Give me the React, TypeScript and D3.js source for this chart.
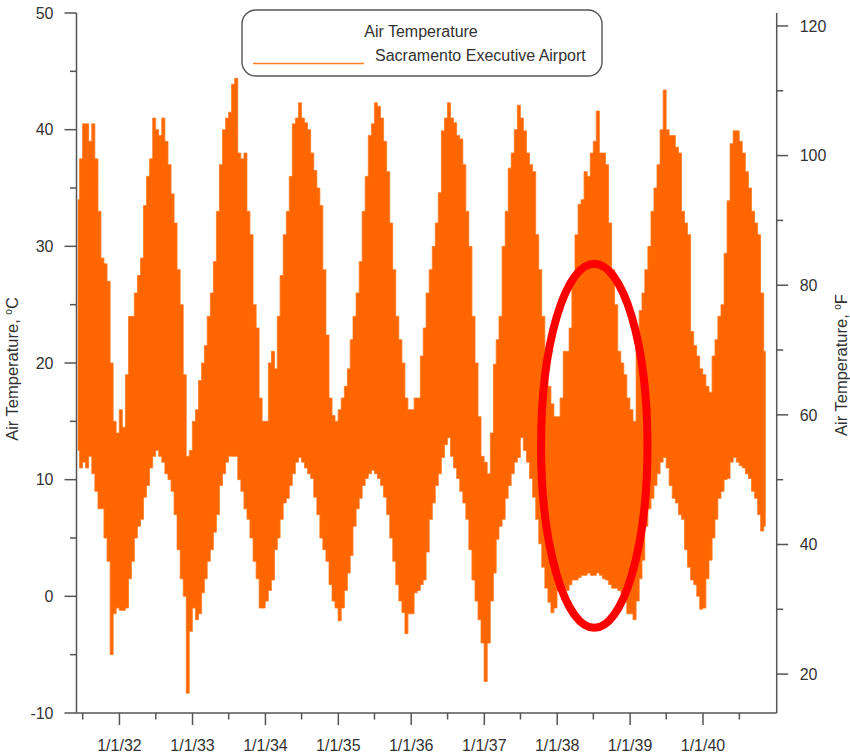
import React from 'react';
import * as d3 from 'd3';

// Semi-monthly high / low envelope of hourly air temperature (°C).
// 1931 starts with the first half of June (half-month index 10).
const hi1931 = [34, 37.5, 40.5, 40.5, 39, 40.5, 37.5, 33, 29, 28.5, 27, 20, 15, 14];
const lo1931 = [12.5, 11, 11.5, 11, 12, 10.5, 9, 7.5, 7.5, 5, 3, -5, -1.5, -1];
const hi1932 = [16, 14.5, 19, 24, 24, 26, 27.5, 29, 33.5, 36, 37.5, 41, 40, 39.5, 41, 39, 37, 34.5, 32, 28, 25, 19, 12, 12.5];
const lo1932 = [-1.2, -1.2, -1, 1.5, 3, 5, 6, 6.6, 8.5, 9.5, 11, 12, 12.5, 12, 11.5, 10.5, 10, 9, 7, 4, 1.5, 0, -8.3, -3];
const hi1933 = [15, 16, 18.5, 20, 21.5, 24, 26, 28.7, 33, 37, 40, 41, 41.5, 43.9, 44.4, 38, 37.5, 38, 33, 31, 25, 23, 17, 15];
const lo1933 = [-1, -2, -1.5, 0.3, 1.5, 3, 4, 5.5, 7, 9.5, 10.5, 11.5, 12, 12, 12, 10, 9, 7.5, 6.6, 5, 3, 1.5, -1, -1];
const hi1934 = [15, 20, 21, 19.5, 24, 27.5, 31, 33, 36, 40.5, 41, 42.3, 41, 40.6, 40, 38, 36.5, 35, 33.5, 28, 22.4, 17, 15.5, 15];
const lo1934 = [-0.4, 0.5, 1.4, 4, 5, 6.6, 8, 8.4, 9.5, 10.5, 11.5, 11.9, 11.5, 11, 10.5, 10.1, 8.5, 7, 5, 4, 3, 1, -0.4, -1];
const hi1935 = [16, 17, 18, 19.5, 22, 24, 26, 28.7, 33, 36, 39.5, 40.5, 42.3, 42, 41, 39, 36.4, 32, 28, 24, 22, 20, 17, 16];
const lo1935 = [-2.1, -1, 0.5, 2, 3.5, 6, 7.5, 8.4, 9.5, 10.1, 10.5, 10.8, 10.5, 10.1, 9.5, 8.5, 7, 5, 3, 1, -0.4, -1.4, -3.2, -1.5];
const hi1936 = [16, 17, 17, 20.6, 23, 26, 28, 30, 32, 34.6, 39.9, 41, 42.3, 41, 40.6, 39.5, 39.2, 37, 33, 30, 24, 20, 15.4, 12];
const lo1936 = [-1.5, 0.3, 0.5, 1, 1.4, 3.8, 6.6, 8, 9.5, 10.5, 11.9, 13, 13.6, 12, 11, 10.1, 9, 8, 6.6, 4, 1.4, -0.4, -2, -4];
const hi1937 = [11.5, 10.5, 14, 19.9, 22, 24, 30, 33, 36.7, 38, 40, 42.1, 41, 39.9, 38, 37, 36.4, 31, 28, 24, 19.2, 18, 16.5, 15.4];
const lo1937 = [-7.3, -4, -0.4, 2, 4.9, 6, 6.6, 8.4, 9.5, 10.5, 11.5, 11.9, 13.6, 12.5, 11.5, 10.1, 8.5, 6.6, 4.5, 2.5, 0.7, -0.5, -1.4, -1];
const hi1938 = [15.4, 17, 21, 21, 23, 27, 31, 33.6, 34, 36.4, 36, 38, 39, 41.6, 38, 38, 37, 32, 28, 25, 21, 20, 19, 17];
const lo1938 = [0.5, 0.5, 0.7, 0.5, 1, 1.4, 1.4, 1.6, 1.8, 1.8, 2, 1.8, 1.8, 2, 1.8, 1.5, 1.4, 1, 0.7, 0.7, 0.5, 0.3, -0.5, -1.5];
const hi1939 = [16, 15, 22, 24.5, 26, 28, 30, 33, 35, 37, 40, 43.4, 40, 39.5, 39.5, 38.5, 38, 33, 32, 31, 22.7, 21.5, 20.6, 19.5];
const lo1939 = [-1.5, -2, -0.4, 1.5, 3.1, 6, 7.5, 8.4, 9.5, 10.5, 11.5, 11.9, 11, 9.5, 8.4, 8, 7, 6.6, 4, 2.5, 1.4, 1, 0, -1.1];
const hi1940 = [19, 18, 17.5, 20.6, 22, 24, 25, 29.4, 33.9, 38.8, 39.9, 39.9, 39, 38, 36.4, 35, 33, 32, 31, 26, 21];
const lo1940 = [-1, 1.5, 3.1, 5, 6.6, 8.4, 9, 10, 10.1, 11.5, 11.9, 11.5, 11.2, 11, 10.5, 10.1, 9, 8.4, 7, 5.6, 6];

const years = [1931, 1932, 1933, 1934, 1935, 1936, 1937, 1938, 1939, 1940];
const hiByYear = [hi1931, hi1932, hi1933, hi1934, hi1935, hi1936, hi1937, hi1938, hi1939, hi1940];
const loByYear = [lo1931, lo1932, lo1933, lo1934, lo1935, lo1936, lo1937, lo1938, lo1939, lo1940];
const firstHalfMonth1931 = 10;

// Axis ticks
const celsiusMajor = [-10, 0, 10, 20, 30, 40, 50];
const celsiusMinor = [-5, 5, 15, 25, 35, 45];
const fahrenheitMajor = [20, 40, 60, 80, 100, 120];
const fahrenheitMinor = [30, 50, 70, 90, 110];
const yearTicks = [1932, 1933, 1934, 1935, 1936, 1937, 1938, 1939, 1940];
const midYearTicks = [1931, 1932, 1933, 1934, 1935, 1936, 1937, 1938, 1939, 1940];

// Highlight annotation (red ellipse)
const highlight = { from: new Date(1937, 9, 12), to: new Date(1939, 2, 29), tLow: -2.7, tHigh: 28.5 };

type Pt = { date: Date; hi: number; lo: number };
const series: Pt[] = [];
years.forEach((y, i) => {
  const start = y === 1931 ? firstHalfMonth1931 : 0;
  hiByYear[i].forEach((h, k) => {
    const b = start + k;
    series.push({ date: new Date(y, Math.floor(b / 2), b % 2 === 0 ? 8 : 23), hi: h, lo: loByYear[i][k] });
  });
});

const FONT = '"Liberation Sans", Arial, Helvetica, sans-serif';
const AXIS = '#555';
const TXT = '#333';
const ORANGE = '#FF6600';

export default function App() {
  const left = 76.5, right = 776.7, top = 13, bottom = 713;
  const x = d3.scaleTime().domain([new Date(1931, 4, 31), new Date(1941, 0, 4)]).range([left, right]);
  const yC = d3.scaleLinear().domain([-10, 50]).range([bottom, top]);
  const yF = d3.scaleLinear().domain([-10 * 9 / 5 + 32, 50 * 9 / 5 + 32]).range([bottom, top]);
  const area = d3.area<Pt>().x(d => x(d.date)).y0(d => yC(d.lo)).y1(d => yC(d.hi)).curve(d3.curveStep);
  const fmt = d3.timeFormat('%-m/%-d/%y');

  const ex0 = x(highlight.from), ex1 = x(highlight.to);
  const ey0 = yC(highlight.tHigh), ey1 = yC(highlight.tLow);

  return (
    <svg width={850} height={755} style={{ position: 'absolute', left: 0, top: 0, background: '#fff' }} fontFamily={FONT}>
      <path d={area(series) || ''} fill={ORANGE} stroke="#FF7A22" strokeWidth={0.8} />

      {/* left axis */}
      <line x1={left} x2={left} y1={top} y2={bottom} stroke={AXIS} strokeWidth={1.5} />
      {celsiusMajor.map(v => (
        <g key={'cM' + v}>
          <line x1={left - 12} x2={left} y1={yC(v)} y2={yC(v)} stroke={AXIS} strokeWidth={1.5} />
          <text x={left - 23} y={yC(v)} dy="0.36em" textAnchor="end" fontSize={16} fill={TXT}>{v}</text>
        </g>
      ))}
      {celsiusMinor.map(v => (
        <line key={'cm' + v} x1={left - 6.5} x2={left} y1={yC(v)} y2={yC(v)} stroke={AXIS} strokeWidth={1.5} />
      ))}

      {/* right axis */}
      <line x1={right} x2={right} y1={top} y2={bottom} stroke={AXIS} strokeWidth={1.5} />
      {fahrenheitMajor.map(v => (
        <g key={'fM' + v}>
          <line x1={right} x2={right + 11.5} y1={yF(v)} y2={yF(v)} stroke={AXIS} strokeWidth={1.5} />
          <text x={right + 23} y={yF(v)} dy="0.36em" textAnchor="start" fontSize={16} fill={TXT}>{v}</text>
        </g>
      ))}
      {fahrenheitMinor.map(v => (
        <line key={'fm' + v} x1={right} x2={right + 6.5} y1={yF(v)} y2={yF(v)} stroke={AXIS} strokeWidth={1.5} />
      ))}

      {/* bottom axis */}
      <line x1={left} x2={right} y1={bottom} y2={bottom} stroke={AXIS} strokeWidth={1.5} />
      {yearTicks.map(yr => {
        const d = new Date(yr, 0, 1);
        return (
          <g key={'xM' + yr}>
            <line x1={x(d)} x2={x(d)} y1={bottom} y2={bottom + 12} stroke={AXIS} strokeWidth={1.5} />
            <text x={x(d)} y={bottom + 38} textAnchor="middle" fontSize={16} fill={TXT}>{fmt(d)}</text>
          </g>
        );
      })}
      {midYearTicks.map(yr => {
        const d = new Date(yr, 6, 1);
        return <line key={'xm' + yr} x1={x(d)} x2={x(d)} y1={bottom} y2={bottom + 6.5} stroke={AXIS} strokeWidth={1.5} />;
      })}

      {/* axis titles */}
      <text transform={`translate(18,369) rotate(-90)`} textAnchor="middle" fontSize={16.5} fill={TXT}>
        Air Temperature, <tspan fontSize={10} dy={-6}>o</tspan><tspan dy={6}>C</tspan>
      </text>
      <text transform={`translate(847,365) rotate(-90)`} textAnchor="middle" fontSize={16.5} fill={TXT}>
        Air Temperature, <tspan fontSize={10} dy={-6}>o</tspan><tspan dy={6}>F</tspan>
      </text>

      {/* legend */}
      <rect x={242} y={10} width={360} height={66} rx={14} ry={14} fill="#fff" stroke={AXIS} strokeWidth={1.4} />
      <text x={421} y={36.5} textAnchor="middle" fontSize={16} fill={TXT}>Air Temperature</text>
      <line x1={253} x2={364} y1={63.5} y2={63.5} stroke="#FF7F2A" strokeWidth={1.6} />
      <text x={375} y={60.7} fontSize={16} fill={TXT}>Sacramento Executive Airport</text>

      {/* highlight ellipse */}
      <ellipse cx={(ex0 + ex1) / 2} cy={(ey0 + ey1) / 2} rx={(ex1 - ex0) / 2} ry={(ey1 - ey0) / 2}
        fill="none" stroke="#FF0000" strokeWidth={8} />
    </svg>
  );
}
